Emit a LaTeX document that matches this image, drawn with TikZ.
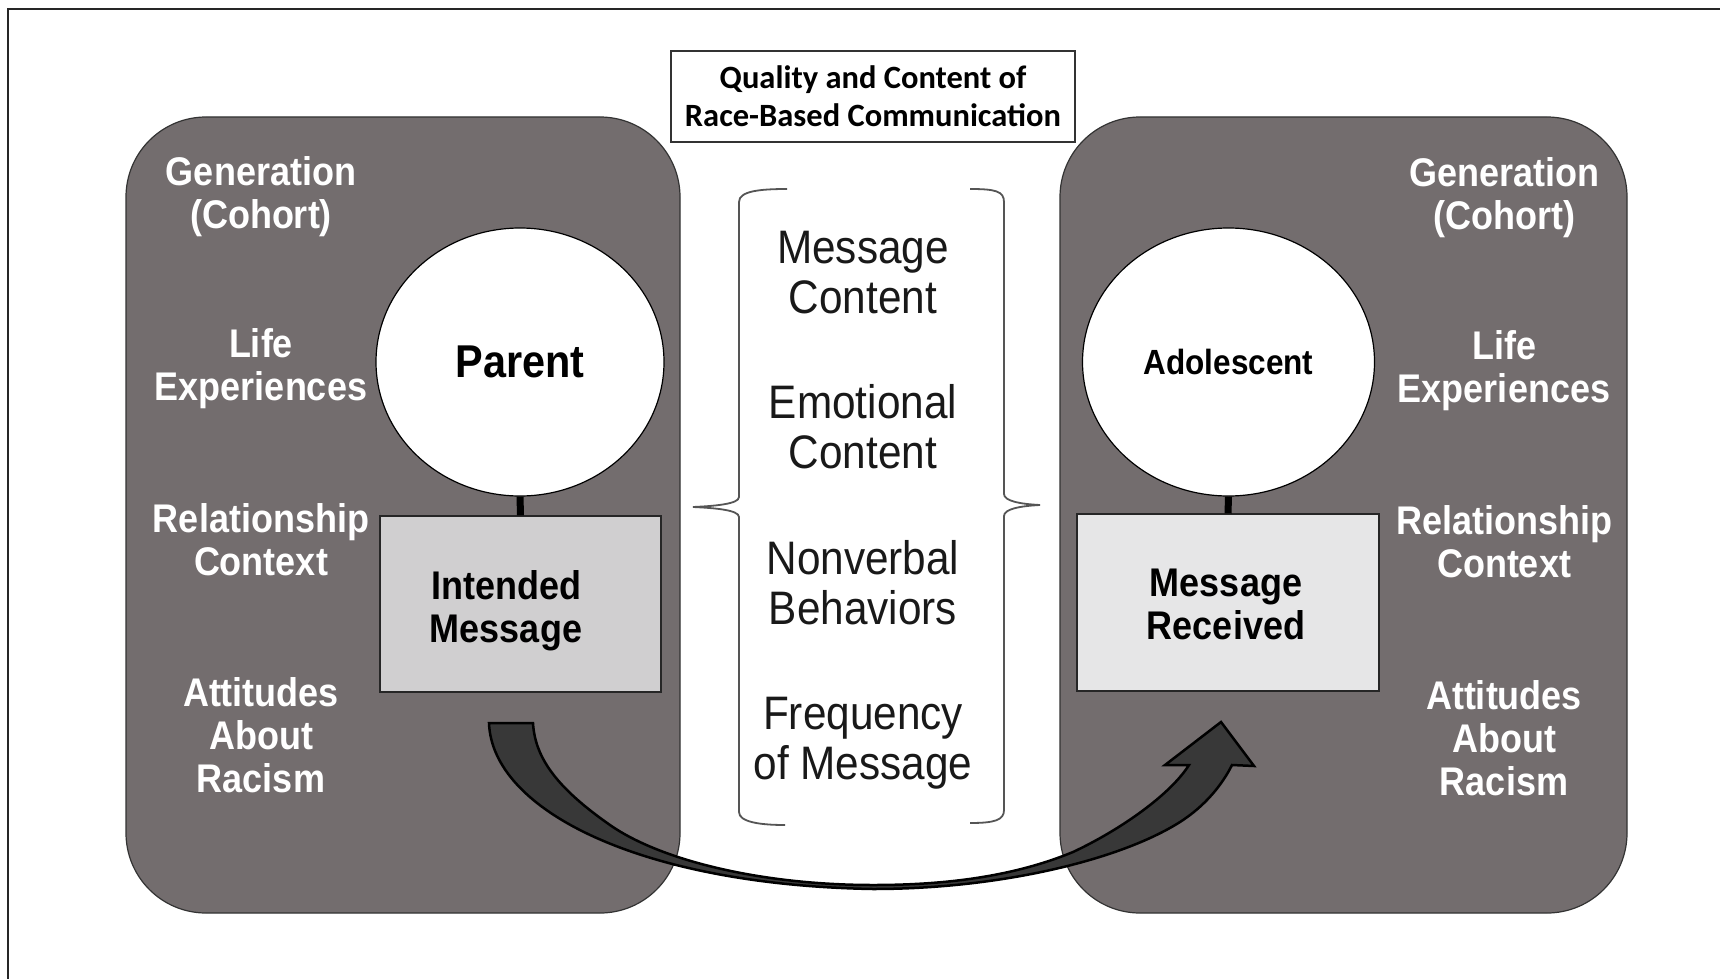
\documentclass[tikz,border=0pt]{standalone}
\usepackage{fontspec}
\setmainfont{Liberation Sans}[FakeStretch=0.9]
\newfontfamily\titlefont{Carlito}
\usetikzlibrary{shapes.geometric}
\definecolor{panelgray}{HTML}{736D6E}
\definecolor{intgray}{HTML}{D0CFD0}
\definecolor{recgray}{HTML}{E6E6E7}
\definecolor{arrowgray}{HTML}{383838}
\definecolor{bracegray}{HTML}{555555}
\tikzset{
  panel/.style={draw=black!80, line width=1.2pt, fill=panelgray, rounded corners=80pt,
    minimum width=554pt, minimum height=796pt, inner sep=0pt},
  lab/.style={align=center, text=white, font=\fontsize{40}{43}\selectfont\bfseries, inner sep=0pt},
  person/.style={ellipse, draw=black, line width=1.2pt, fill=white, inner sep=0pt},
  msgbox/.style={draw=black!85, line width=1.2pt, minimum width=281pt, minimum height=176pt,
    inner sep=0pt},
  msgtext/.style={align=center, font=\fontsize{40}{43}\selectfont\bfseries, inner sep=0pt},
  bracetext/.style={align=center, font=\fontsize{47}{50}\selectfont, text=black!90, inner sep=0pt},
  bracepath/.style={draw=bracegray, line width=1.8pt},
  stem/.style={line width=7pt, black},
  bigarrow/.style={draw=black, line width=2.5pt, fill=arrowgray, line join=miter},
}
\begin{document}
\begin{tikzpicture}[x=1pt,y=-1pt]
\useasboundingbox (0,0) rectangle (1720,979);
\fill[white] (0,0) rectangle (1720,979);
% outer frame
\draw[line width=2pt, black!85] (8,9) rectangle (1760,1020);

% panels
\node[panel] (lpanel) at (403,515) {};
\node[panel, minimum width=567pt] (rpanel) at (1343.5,515) {};

% title
\node[draw=black!80, line width=1.2pt, fill=white, minimum width=404pt, minimum height=91pt,
  align=center, inner sep=0pt, font=\titlefont\bfseries\fontsize{32.5}{38}\selectfont] (title) at (873,96.5)
  {Quality and Content of\\Race-Based Communication};

% left labels
\node[lab] (lgen) at (261,197) {Generation\\(Cohort)};
\node[lab] (llife) at (261,369) {Life\\Experiences};
\node[lab] (lrel) at (261,540) {Relationship\\Context};
\node[lab] (latt) at (261,735) {Attitudes\\About\\Racism};

% right labels
\node[lab] (rgen) at (1504,198) {Generation\\(Cohort)};
\node[lab] (rlife) at (1504,371) {Life\\Experiences};
\node[lab] (rrel) at (1504,542) {Relationship\\Context};
\node[lab] (ratt) at (1504,738) {Attitudes\\About\\Racism};

% persons
\node[person, minimum width=288pt, minimum height=268pt,
  font=\fontsize{46}{50}\selectfont\bfseries] (parent) at (520,362) {Parent};
\node[person, minimum width=292pt, minimum height=268pt,
  font=\fontsize{35}{40}\selectfont\bfseries] (adol) at (1228.5,362) {Adolescent};

% message boxes
\node[msgbox, fill=intgray] (intended) at (520.5,604) {};
\node[msgtext] (intendedtext) at (506,611) {Intended\\Message};
\node[msgbox, fill=recgray, minimum width=302pt, minimum height=177pt] (received) at (1228,602.5) {};
\node[msgtext] (receivedtext) at (1226,604) {Message\\Received};

% stems
\draw[stem] (parent.south) -- (intended.north);
\draw[stem] (adol.south) -- (received.north);

% braces
\draw[bracepath] (787,189) .. controls (760,189) and (739,191) .. (739,202) -- (739,497)
  .. controls (739,504) and (715,506) .. (693,507)
  .. controls (715,508) and (739,510) .. (739,517) -- (739,812)
  .. controls (739,822) and (760,825) .. (785,825);
\draw[bracepath] (970,189) .. controls (995,189) and (1004,191) .. (1004,202) -- (1004,494)
  .. controls (1004,501) and (1020,504) .. (1040,505)
  .. controls (1020,506) and (1004,509) .. (1004,516) -- (1004,810)
  .. controls (1004,820) and (995,823) .. (970,823);

% brace texts
\node[bracetext] (mc) at (863,273) {Message\\Content};
\node[bracetext] (ec) at (863,427) {Emotional\\Content};
\node[bracetext] (nb) at (863,583) {Nonverbal\\Behaviors};
\node[bracetext] (fm) at (863,743) {Frequency\\of Message};

% big curved arrow
\draw[bigarrow] (489,723) .. controls (492,810) and (640,885) .. (873,889)
  .. controls (1000,889) and (1120,860) .. (1180,822)
  .. controls (1205,806) and (1222,785) .. (1232,765)
  -- (1254,766) -- (1221,722) -- (1165,765) -- (1189,765)
  .. controls (1170,795) and (1120,830) .. (1073,852)
  .. controls (1010,878) and (940,885) .. (873,885)
  .. controls (760,885) and (660,860) .. (610,825)
  .. controls (560,790) and (535,760) .. (533,723)
  -- cycle;
\end{tikzpicture}
\end{document}
